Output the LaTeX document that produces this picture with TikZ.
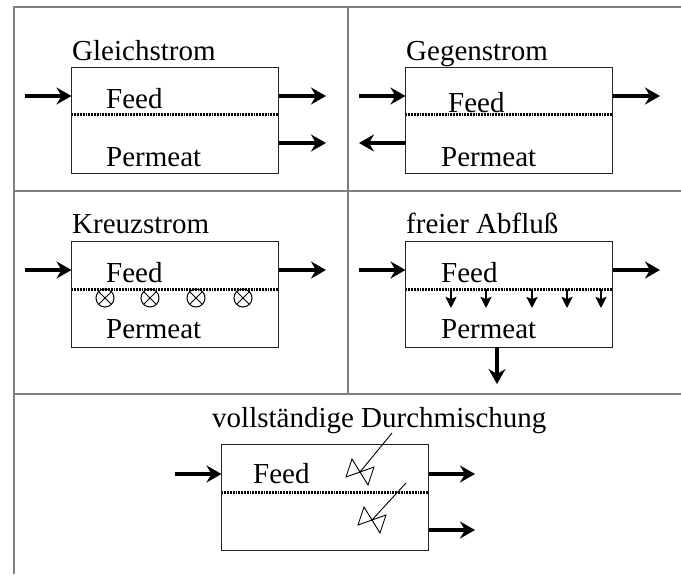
\documentclass[tikz,border=0pt]{standalone}
\usepackage{fontspec}
\setmainfont{Liberation Serif}
\usetikzlibrary{arrows.meta}
\begin{document}
\begin{tikzpicture}[x=1pt,y=-1pt,
  frame/.style={draw=black!50, line width=1.6pt},
  membox/.style={draw=black!85, line width=0.9pt, minimum width=207pt,
    minimum height=106pt, inner sep=0pt, outer sep=0pt},
  membrane/.style={line width=3pt, dash pattern=on 1.8pt off 1pt},
  flow/.style={line width=4pt, -{Stealth[length=15pt,width=17pt,inset=5pt]}},
  seep/.style={line width=2.4pt, -{Stealth[length=11pt,width=11pt,inset=2pt]}},
  lbl/.style={font=\fontsize{29}{34}\selectfont, anchor=base west, inner sep=0pt},
  xline/.style={line width=1pt},
  mixer/.pic={\draw[line width=0.9pt] (0,0) -- (-8,-13) -- (-14,5) -- cycle
                                      (0,0) -- (14,-5) -- (8,13) -- cycle;},
]
\useasboundingbox (0,0) rectangle (681,574);

% panel frame
\draw[frame] (14,574) -- (14,7) -- (681,7);
\draw[frame] (14,191) -- (681,191);
\draw[frame] (14,394) -- (681,394);
\draw[frame] (348,7) -- (348,394);

% ---------- Gleichstrom ----------
\node[membox] (b1) at (175,120) {};
\node[lbl] (t1) at (72,60) {Gleichstrom};
\node[lbl] (f1) at (106,108) {Feed};
\node[lbl] (p1) at (106,166) {Permeat};
\draw[membrane] (b1.west |- 0,114) -- (b1.east |- 0,114);
\coordinate (i1) at (25,96);
\coordinate (o1) at (326,96);
\coordinate (q1) at (326,143);
\draw[flow] (i1) -- (i1 -| b1.west);
\draw[flow] (o1 -| b1.east) -- (o1);
\draw[flow] (q1 -| b1.east) -- (q1);

% ---------- Gegenstrom ----------
\node[membox] (b2) at (509,120) {};
\node[lbl] (t2) at (406,60) {Gegenstrom};
\node[lbl] (f2) at (448,112) {Feed};
\node[lbl] (p2) at (441,166) {Permeat};
\draw[membrane] (b2.west |- 0,114) -- (b2.east |- 0,114);
\coordinate (i2) at (359,96);
\coordinate (o2) at (660,96);
\coordinate (q2) at (359,143);
\draw[flow] (i2) -- (i2 -| b2.west);
\draw[flow] (o2 -| b2.east) -- (o2);
\draw[flow] (q2 -| b2.west) -- (q2);

% ---------- Kreuzstrom ----------
\node[membox] (b3) at (175,294) {};
\node[lbl] (t3) at (72,233) {Kreuzstrom};
\node[lbl] (f3) at (106,282) {Feed};
\node[lbl] (p3) at (106,338) {Permeat};
\draw[membrane] (b3.west |- 0,289) -- (b3.east |- 0,289);
\foreach \cx [count=\k] in {105,150,196,243} {
  \coordinate (x\k) at (\cx,298);
  \draw[xline] (x\k) circle[radius=9pt];
  \draw[xline] (x\k) +(45:9pt) -- +(225:9pt) (x\k) +(135:9pt) -- +(315:9pt);
}
\coordinate (i3) at (25,270);
\coordinate (o3) at (326,270);
\draw[flow] (i3) -- (i3 -| b3.west);
\draw[flow] (o3 -| b3.east) -- (o3);

% ---------- freier Abfluss ----------
\node[membox] (b4) at (509,294) {};
\node[lbl] (t4) at (406,233) {freier Abfluß};
\node[lbl] (f4) at (441,282) {Feed};
\node[lbl] (p4) at (441,338) {Permeat};
\draw[membrane] (b4.west |- 0,289) -- (b4.east |- 0,289);
\foreach \sx [count=\k] in {451,486,532,567,601} {
  \coordinate (s\k) at (\sx,289);
  \draw[seep] (s\k) -- ++(0,19);
}
\coordinate (i4) at (359,270);
\coordinate (o4) at (660,270);
\coordinate (d4) at (497,384);
\draw[flow] (i4) -- (i4 -| b4.west);
\draw[flow] (o4 -| b4.east) -- (o4);
\draw[flow] (d4 |- b4.south) -- (d4);

% ---------- vollstaendige Durchmischung ----------
\node[membox] (b5) at (325,497) {};
\node[lbl] (t5) at (212,427) {vollständige Durchmischung};
\node[lbl] (f5) at (253,483) {Feed};
\draw[membrane] (b5.west |- 0,492) -- (b5.east |- 0,492);
\coordinate (i5) at (175,474);
\coordinate (o5) at (475,474);
\coordinate (q5) at (475,530);
\draw[flow] (i5) -- (i5 -| b5.west);
\draw[flow] (o5 -| b5.east) -- (o5);
\draw[flow] (q5 -| b5.east) -- (q5);
\coordinate (m1) at (360,472);
\coordinate (m1t) at (392,433);
\coordinate (m2) at (372,520);
\coordinate (m2t) at (406,483);
\pic at (m1) {mixer};
\pic at (m2) {mixer};
\draw[line width=0.9pt] (m1) -- (m1t);
\draw[line width=0.9pt] (m2) -- (m2t);
\end{tikzpicture}
\end{document}
